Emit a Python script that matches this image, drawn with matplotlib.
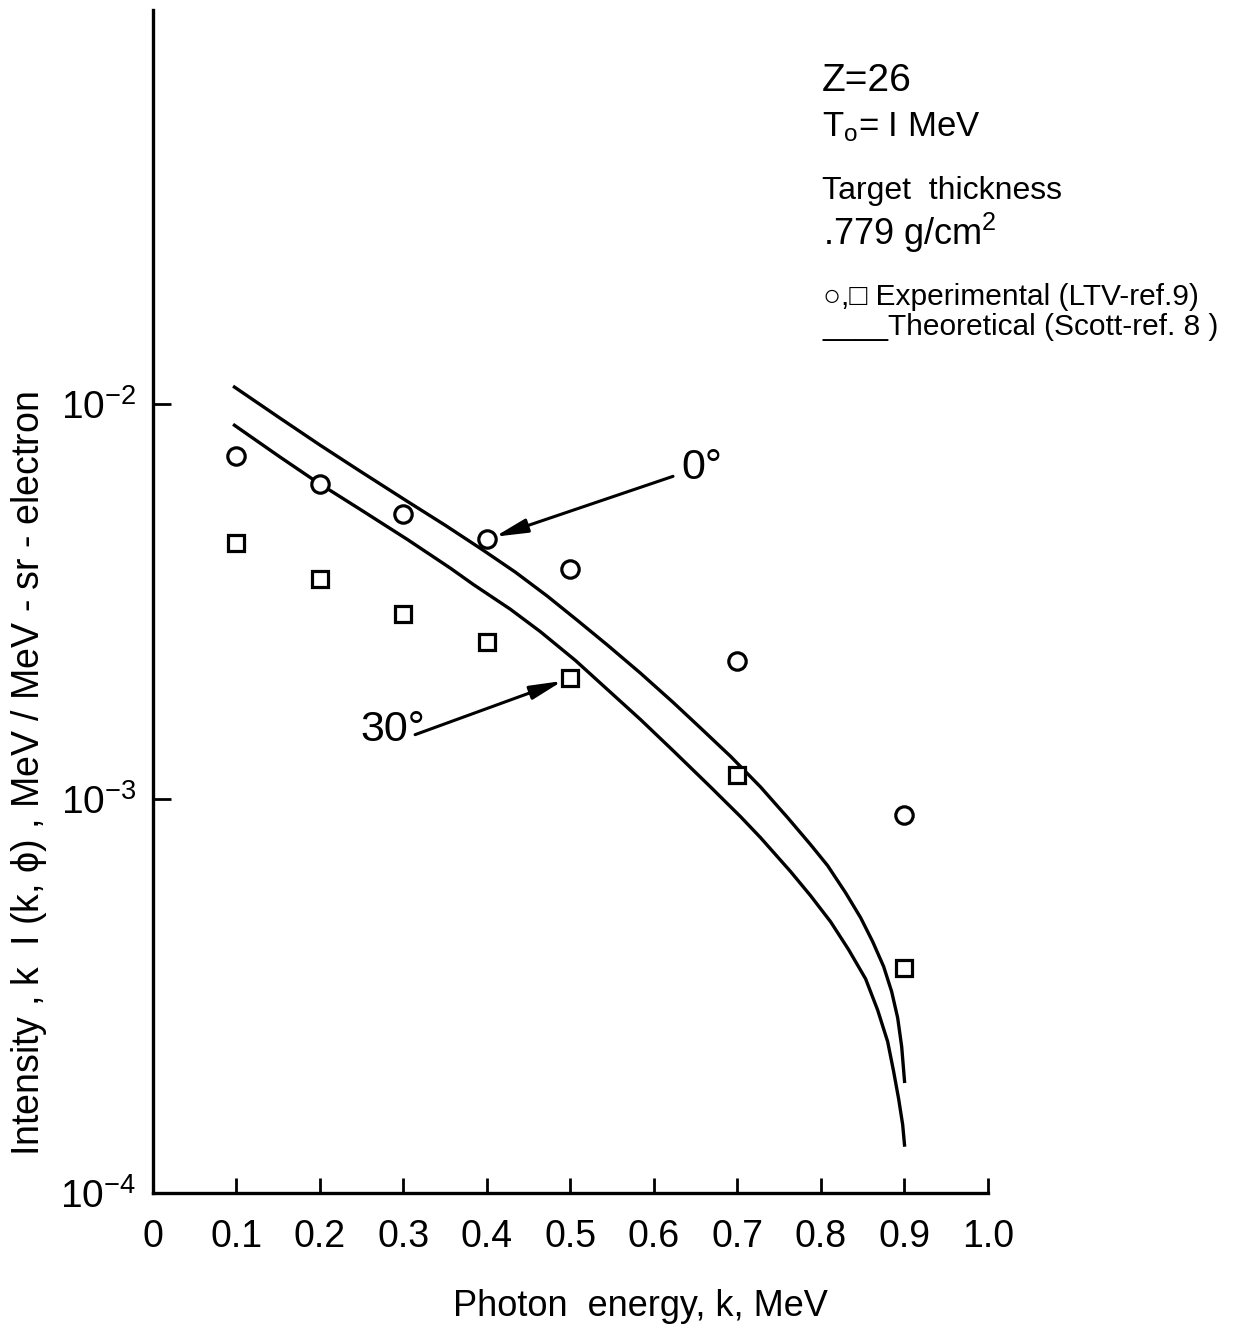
import matplotlib
matplotlib.use("Agg")
import matplotlib.pyplot as plt
from matplotlib.ticker import NullLocator

plt.rcParams['font.family'] = ['Liberation Sans', 'DejaVu Sans']
plt.rcParams['mathtext.default'] = 'regular'

# Experimental points (LTV), photon energy k in MeV
k_exp = [0.1, 0.2, 0.3, 0.4, 0.5, 0.7, 0.9]
exp_0deg = [7.38e-3, 6.27e-3, 5.28e-3, 4.54e-3, 3.81e-3, 2.23e-3, 9.1e-4]
exp_30deg = [4.44e-3, 3.60e-3, 2.93e-3, 2.50e-3, 2.02e-3, 1.15e-3, 3.72e-4]

# Theoretical curves (Scott)
k_th_0 = [0.0959, 0.1523, 0.2002, 0.2482, 0.3046, 0.3501, 0.3957, 0.4341,
          0.4724, 0.5084, 0.5444, 0.5839, 0.6235, 0.6559, 0.6918, 0.7278,
          0.7602, 0.7878, 0.8082, 0.8297, 0.8477, 0.8621, 0.8753, 0.8849,
          0.8921, 0.8969, 0.9005]
th_0deg = [1.111e-2, 9.21e-3, 7.87e-3, 6.76e-3, 5.67e-3, 4.93e-3, 4.26e-3,
           3.75e-3, 3.26e-3, 2.83e-3, 2.45e-3, 2.08e-3, 1.75e-3, 1.51e-3,
           1.28e-3, 1.07e-3, 8.95e-4, 7.64e-4, 6.76e-4, 5.77e-4, 4.99e-4,
           4.34e-4, 3.75e-4, 3.24e-4, 2.78e-4, 2.35e-4, 1.90e-4]
k_th_30 = [0.0959, 0.1523, 0.1966, 0.2482, 0.3046, 0.3561, 0.3837, 0.4281,
           0.4640, 0.5060, 0.5444, 0.5839, 0.6235, 0.6679, 0.7038, 0.7278,
           0.7638, 0.7878, 0.8118, 0.8333, 0.8537, 0.8681, 0.8801, 0.8873,
           0.8933, 0.8981, 0.9005]
th_30deg = [8.89e-3, 7.34e-3, 6.34e-3, 5.41e-3, 4.54e-3, 3.84e-3, 3.49e-3,
            3.02e-3, 2.65e-3, 2.24e-3, 1.89e-3, 1.587e-3, 1.32e-3, 1.07e-3,
            9.00e-4, 7.96e-4, 6.53e-4, 5.67e-4, 4.87e-4, 4.14e-4, 3.49e-4,
            2.91e-4, 2.42e-4, 2.03e-4, 1.73e-4, 1.49e-4, 1.31e-4]

x_ticks = [0, 0.1, 0.2, 0.3, 0.4, 0.5, 0.6, 0.7, 0.8, 0.9, 1.0]
x_labels = ['0', '0.1', '0.2', '0.3', '0.4', '0.5', '0.6', '0.7', '0.8', '0.9', '1.0']
y_ticks = [1e-4, 1e-3, 1e-2]
y_labels = [r'$10^{-4}$', r'$10^{-3}$', r'$10^{-2}$']

fig = plt.figure(figsize=(12.44, 13.31), dpi=100)
ax = fig.add_axes([0.123, 0.1037, 0.671, 0.889])

lw = 2.4
ax.plot(k_th_0, th_0deg, color='black', lw=lw, solid_capstyle='butt',
        solid_joinstyle='round')
ax.plot(k_th_30, th_30deg, color='black', lw=lw, solid_capstyle='butt',
        solid_joinstyle='round')
ax.plot(k_exp, exp_0deg, 'o', ms=12.5, mfc='white', mec='black', mew=2.3)
ax.plot(k_exp, exp_30deg, 's', ms=12, mfc='white', mec='black', mew=2.3)

ax.set_yscale('log')
ax.set_xlim(0, 1.0)
ax.set_ylim(1e-4, 1e-1)

for side in ['top', 'right']:
    ax.spines[side].set_visible(False)
for side in ['left', 'bottom']:
    ax.spines[side].set_linewidth(2.4)

ax.set_xticks(x_ticks)
ax.set_xticklabels(x_labels, fontsize=27)
ax.set_yticks(y_ticks)
ax.set_yticklabels(y_labels, fontsize=28)
ax.yaxis.set_minor_locator(NullLocator())
ax.tick_params(axis='x', direction='in', length=11, width=2, pad=19)
ax.tick_params(axis='y', direction='in', length=13, width=2, pad=12)

ax.set_xlabel('Photon  energy, k, MeV', fontsize=26, va='center')
ax.xaxis.set_label_coords(0.584, -0.096)
ax.set_ylabel(r'Intensity , k  I (k, $\phi$) , MeV / MeV - sr - electron',
              fontsize=27, va='center')
ax.yaxis.set_label_coords(-0.149, 0.354)

# Angle labels with arrows pointing at the experimental points
arrow = dict(arrowstyle='-|>,head_length=1.4,head_width=0.3', color='black',
             lw=2.2, shrinkA=0, shrinkB=6, mutation_scale=14)
ax.annotate('', xy=(0.4, exp_0deg[3]), xytext=(0.623, 10 ** -2.183),
            arrowprops=arrow)
ax.text(0.658, 10 ** -2.162, '0°', fontsize=31, ha='center', va='center')
ax.annotate('', xy=(0.5, exp_30deg[4]), xytext=(0.314, 10 ** -2.838),
            arrowprops=arrow)
ax.text(0.287, 10 ** -2.825, '30°', fontsize=31, ha='center', va='center')


# Information block at upper right
def ftext(px, py, s, size):
    fig.text(px / 1244, 1 - py / 1331, s, fontsize=size, ha='left', va='center')


ftext(822, 81, 'Z=26', 28)
ftext(822, 127, r'T$_o$= I MeV', 25)
ftext(822, 191, 'Target  thickness', 23)
ftext(823, 233, '.779 g/cm$^2$', 26)
ftext(823, 297, '○,□ Experimental (LTV-ref.9)', 21.5)
ftext(823, 327, '____Theoretical (Scott-ref. 8 )', 21.5)

fig.savefig('out.png', dpi=100)
